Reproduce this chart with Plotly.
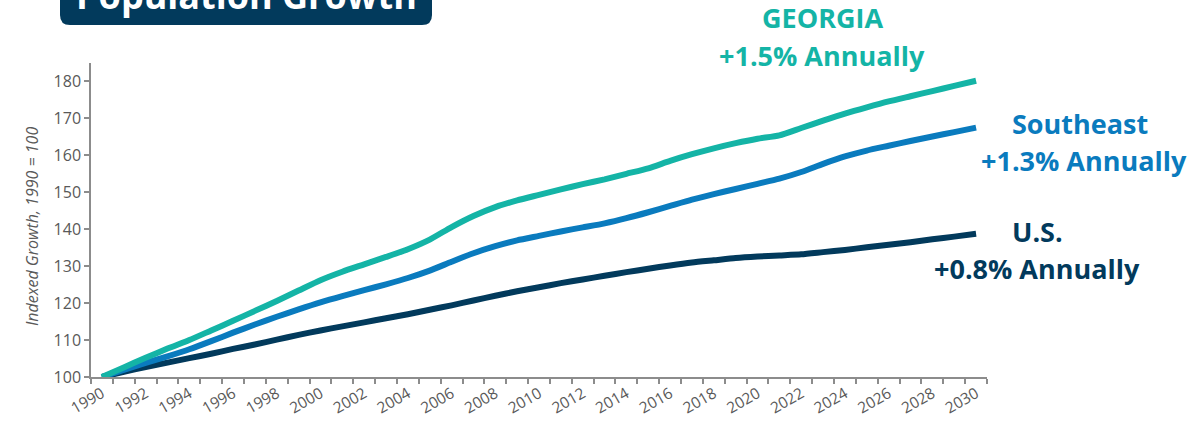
import plotly.graph_objects as go

# Indexed population growth, 1990 = 100
years = list(range(1990, 2031))

georgia = [100.0, 102.6, 105.2, 107.7, 110.0, 112.6, 115.2, 117.9, 120.6, 123.4,
           126.2, 128.5, 130.5, 132.5, 134.6, 137.2, 140.6, 143.6, 146.0, 147.8,
           149.3, 150.8, 152.2, 153.5, 155.0, 156.5, 158.5, 160.3, 161.9, 163.3,
           164.5, 165.4, 167.4, 169.4, 171.3, 173.0, 174.6, 176.0, 177.4, 178.8,
           180.2]

southeast = [100.0, 101.9, 103.8, 105.6, 107.5, 109.7, 112.0, 114.2, 116.3, 118.3,
             120.2, 121.9, 123.5, 125.1, 126.8, 128.8, 131.2, 133.5, 135.4, 137.0,
             138.2, 139.4, 140.5, 141.6, 143.0, 144.6, 146.3, 148.0, 149.5, 150.9,
             152.3, 153.7, 155.5, 157.7, 159.7, 161.3, 162.6, 163.9, 165.1, 166.3,
             167.5]

us = [100.0, 101.4, 102.7, 103.9, 105.1, 106.3, 107.6, 108.8, 110.1, 111.4,
      112.6, 113.7, 114.8, 115.9, 117.0, 118.2, 119.4, 120.7, 122.0, 123.2,
      124.3, 125.4, 126.4, 127.4, 128.4, 129.3, 130.2, 131.0, 131.6, 132.2,
      132.6, 132.9, 133.2, 133.8, 134.4, 135.1, 135.8, 136.5, 137.3, 138.0,
      138.8]

tick_years = list(range(1990, 2031, 2))
y_ticks = list(range(100, 190, 10))

NAVY = "#023A5C"
BLUE = "#0A7BBE"
TEAL = "#14B4A6"
GRAY_TXT = "#595959"
GRAY_AX = "#8C8C8C"
FONT = "Open Sans"

W, H = 1192, 429
L, R, T, B = 91, 205, 63, 52
pw, ph = W - L - R, H - T - B


def px(x):
    return (x - L) / pw


def py(y):
    return (H - B - y) / ph


fig = go.Figure()
for name, vals, color in [("U.S.", us, NAVY), ("Southeast", southeast, BLUE),
                          ("Georgia", georgia, TEAL)]:
    fig.add_trace(go.Scatter(x=years, y=vals, mode="lines", name=name,
                             line=dict(color=color, width=6, shape="spline",
                                       smoothing=0.6)))

# rounded title box, cut off by the top edge
x0, x1, yb, yt = px(60), px(432), py(25), py(-40)
rx, ry = 10 / pw, 10 / ph
fig.add_shape(type="path", xref="paper", yref="paper", layer="above",
              path=(f"M {x0},{yt} L {x0},{yb + ry} Q {x0},{yb} {x0 + rx},{yb} "
                    f"L {x1 - rx},{yb} Q {x1},{yb} {x1},{yb + ry} L {x1},{yt} Z"),
              fillcolor=NAVY, line=dict(width=0))

annos = [
    dict(text="Population Growth", x=px(246), y=py(-4), size=36, color="white"),
    dict(text="GEORGIA", x=px(822), y=py(18), size=27, color=TEAL),
    dict(text="+1.5% Annually", x=px(822), y=py(55), size=27, color=TEAL),
    dict(text="Southeast", x=px(1080), y=py(124), size=27, color=BLUE),
    dict(text="+1.3% Annually", x=px(1084), y=py(160), size=27, color=BLUE),
    dict(text="U.S.", x=px(1037), y=py(231), size=27, color=NAVY),
    dict(text="+0.8% Annually", x=px(1037), y=py(268), size=27, color=NAVY),
]
for a in annos:
    fig.add_annotation(text=a["text"], x=a["x"], y=a["y"], xref="paper", yref="paper",
                       showarrow=False, xanchor="center", yanchor="middle",
                       font=dict(family=FONT, size=a["size"], color=a["color"],
                                 weight="bold"))

fig.add_annotation(text="Indexed Growth, 1990 = 100", x=px(19), y=py(227),
                   xref="paper", yref="paper", showarrow=False, textangle=-90,
                   font=dict(family=FONT, size=16, color=GRAY_TXT, style="italic"))

fig.update_xaxes(range=[1989.5, 2030.5], tickvals=tick_years, ticktext=[str(y) for y in tick_years],
                 tickangle=-30, ticks="", showgrid=False, zeroline=False, automargin=False,
                 showline=True, linecolor=GRAY_AX, linewidth=1.5,
                 tickfont=dict(family=FONT, size=15.5, color=GRAY_TXT),
                 minor=dict(ticks="outside", tick0=1989.5, dtick=1, ticklen=5,
                            tickcolor=GRAY_AX, tickwidth=1.5, showgrid=False))
fig.update_yaxes(range=[100, 185], tickvals=y_ticks, ticks="outside", ticklen=5,
                 tickcolor=GRAY_AX, tickwidth=1.5, showgrid=False, zeroline=False,
                 showline=True, linecolor=GRAY_AX, linewidth=1.5, automargin=False,
                 tickfont=dict(family=FONT, size=16, color=GRAY_TXT))

fig.update_layout(width=W, height=H, showlegend=False,
                  plot_bgcolor="white", paper_bgcolor="white",
                  margin=dict(l=L, r=R, t=T, b=B))

# drop the browser's default page margin so the figure sits at (0, 0)
fig.write_html("out.html", config={"displayModeBar": False},
               post_script="document.body.style.margin='0';")
